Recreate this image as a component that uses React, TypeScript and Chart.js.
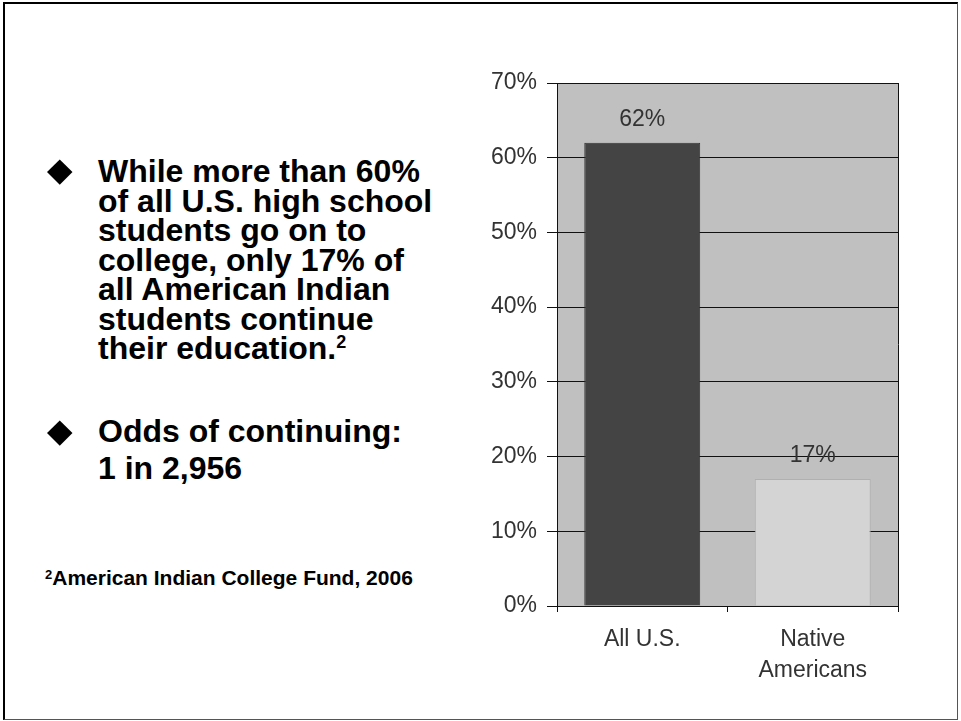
import React, { useEffect, useRef } from "react";
import { Chart, registerables } from "chart.js";

Chart.register(...registerables);

const categories: (string | string[])[] = ["All U.S.", ["Native", "Americans"]];
const collegeRates: number[] = [62, 17];
const barColors: string[] = ["#444444", "#d4d4d4"];
const barBorders: string[] = ["#333333", "#b0b0b0"];
const yTicks: number[] = [0, 10, 20, 30, 40, 50, 60, 70];

const bullet1Lines: string[] = [
  "While more than 60%",
  "of all U.S. high school",
  "students go on to",
  "college, only 17% of",
  "all American Indian",
  "students continue",
  "their education.",
];
const bullet2Lines: string[] = ["Odds of continuing:", "1 in 2,956"];
const footnote = "American Indian College Fund, 2006";

const FONT = "Arial, 'Liberation Sans', Helvetica, sans-serif";
const CHART_FONT_SIZE = 23;

const plotBg = {
  id: "plotBg",
  beforeDraw(chart: any) {
    const { ctx, chartArea } = chart;
    ctx.save();
    ctx.fillStyle = "#c0c0c0";
    ctx.fillRect(chartArea.left, chartArea.top, chartArea.right - chartArea.left, chartArea.bottom - chartArea.top);
    ctx.restore();
  },
};

const valueLabels = {
  id: "valueLabels",
  afterDatasetsDraw(chart: any) {
    const { ctx } = chart;
    const meta = chart.getDatasetMeta(0);
    ctx.save();
    ctx.font = `${CHART_FONT_SIZE}px ${FONT}`;
    ctx.fillStyle = "#333333";
    ctx.textAlign = "center";
    ctx.textBaseline = "middle";
    meta.data.forEach((bar: any, i: number) => {
      ctx.fillText(`${collegeRates[i]}%`, bar.x, bar.y - 23);
    });
    ctx.restore();
  },
};

function BarChart() {
  const ref = useRef<HTMLCanvasElement | null>(null);
  useEffect(() => {
    if (!ref.current) return;
    const chart = new Chart(ref.current, {
      type: "bar",
      data: {
        labels: categories,
        datasets: [
          {
            data: collegeRates,
            backgroundColor: barColors,
            borderColor: barBorders,
            borderWidth: 1,
            barPercentage: 0.68,
            categoryPercentage: 1,
          },
        ],
      },
      options: {
        animation: false,
        responsive: false,
        maintainAspectRatio: false,
        layout: { padding: { top: 13, right: 22, left: 0, bottom: 0 } },
        plugins: { legend: { display: false }, tooltip: { enabled: false } },
        scales: {
          x: {
            grid: {
              offset: true,
              drawOnChartArea: true,
              color: (c: any) => (c.index === 1 ? "rgba(0,0,0,0)" : "#111111"),
              tickColor: "#111111",
              tickLength: 6,
            },
            border: { display: true, color: "#111111" },
            ticks: {
              color: "#333333",
              font: { family: FONT, size: CHART_FONT_SIZE, lineHeight: 1.35 },
              padding: 12,
            },
            afterFit(scale: any) {
              scale.height = 104;
              scale.paddingLeft = 0;
              scale.paddingRight = 0;
            },
          },
          y: {
            min: 0,
            max: 70,
            afterBuildTicks(scale: any) {
              scale.ticks = yTicks.map((v) => ({ value: v }));
            },
            grid: { color: "#111111", tickColor: "#111111", tickLength: 10 },
            border: { display: true, color: "#111111" },
            ticks: {
              color: "#333333",
              font: { family: FONT, size: CHART_FONT_SIZE },
              padding: 10,
              callback: (v: any) => `${v}%`,
            },
            afterFit(scale: any) {
              scale.width = 77;
              scale.paddingTop = 0;
              scale.paddingBottom = 0;
            },
          },
        },
      },
      plugins: [plotBg, valueLabels],
    });
    return () => chart.destroy();
  }, []);
  return (
    <canvas
      ref={ref}
      width={440}
      height={640}
      style={{ position: "absolute", left: 480, top: 70, width: 440, height: 640 }}
    />
  );
}

const Diamond = ({ cx, cy }: { cx: number; cy: number }) => (
  <div
    style={{
      position: "absolute",
      left: cx - 8.75,
      top: cy - 8.75,
      width: 17.5,
      height: 17.5,
      background: "#000",
      transform: "rotate(45deg)",
    }}
  />
);

export default function App() {
  return (
    <div
      style={{
        position: "fixed",
        left: 0,
        top: 0,
        width: 961,
        height: 721,
        background: "#fff",
        overflow: "hidden",
        fontFamily: FONT,
      }}
    >
      <div
        style={{
          position: "absolute",
          left: 3,
          top: 2,
          width: 952,
          height: 715,
          borderLeft: "2px solid #000",
          borderTop: "2px solid #000",
          borderRight: "1px solid #555",
          borderBottom: "1px solid #555",
        }}
      />
      <Diamond cx={59.5} cy={171.5} />
      <div
        style={{
          position: "absolute",
          left: 98,
          top: 157,
          fontSize: 32,
          fontWeight: "bold",
          lineHeight: "29.5px",
          color: "#000",
          whiteSpace: "nowrap",
        }}
      >
        {bullet1Lines.map((l, i) => (
          <div key={i}>
            {l}
            {i === bullet1Lines.length - 1 ? (
              <span style={{ fontSize: 18, position: "relative", top: -11 }}>2</span>
            ) : null}
          </div>
        ))}
      </div>
      <Diamond cx={59.5} cy={433} />
      <div
        style={{
          position: "absolute",
          left: 98,
          top: 413,
          fontSize: 32,
          fontWeight: "bold",
          lineHeight: "37px",
          color: "#000",
          whiteSpace: "nowrap",
        }}
      >
        {bullet2Lines.map((l, i) => (
          <div key={i}>{l}</div>
        ))}
      </div>
      <div
        style={{
          position: "absolute",
          left: 45,
          top: 566,
          fontSize: 21,
          fontWeight: "bold",
          color: "#000",
          whiteSpace: "nowrap",
          lineHeight: "24px",
        }}
      >
        <span style={{ fontSize: 13, position: "relative", top: -6 }}>2</span>
        {footnote}
      </div>
      <BarChart />
    </div>
  );
}
